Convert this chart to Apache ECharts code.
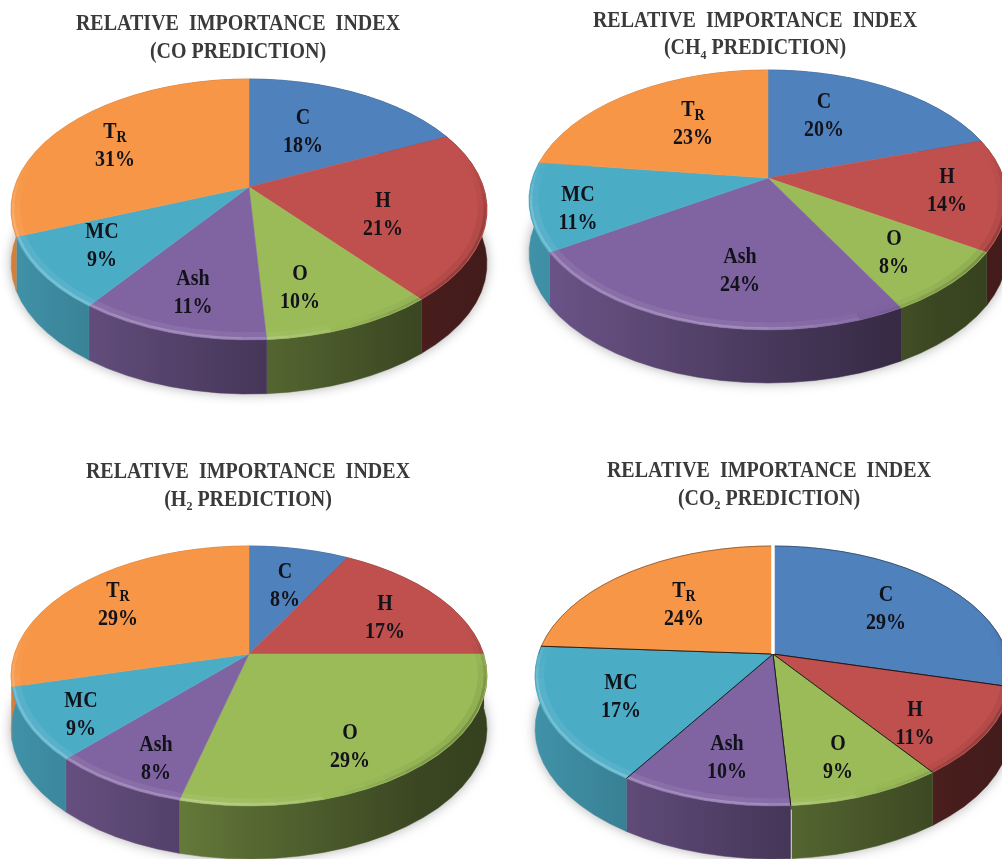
<!DOCTYPE html>
<html>
<head>
<meta charset="utf-8">
<style>
  html, body { margin: 0; padding: 0; background: #fff; }
  #chart { width: 1002px; height: 859px; }
</style>
<script src="https://cdn.jsdelivr.net/npm/echarts@6/dist/echarts.min.js"></script>
</head>
<body>
<div id="chart"></div>
<script>
// Input variables, in clockwise slice order starting at twelve o'clock.
var categories = ['C', 'H', 'O', 'Ash', 'MC', 'TR'];

// Relative importance index, percent, one list per predicted gas.
var coValues  = [18, 21, 10, 11,  9, 31];
var ch4Values = [20, 14,  8, 24, 11, 23];
var h2Values  = [ 8, 17, 29,  8,  9, 29];
var co2Values = [29, 11,  9, 10, 17, 24];

var titleLine = 'RELATIVE  IMPORTANCE  INDEX';
var coSubtitle  = ['(CO PREDICTION)'];
var ch4Subtitle = ['(CH', '4', ' PREDICTION)'];
var h2Subtitle  = ['(H', '2', ' PREDICTION)'];
var co2Subtitle = ['(CO', '2', ' PREDICTION)'];

var palette = ['#4f81bd', '#c0504d', '#9bbb59', '#8064a2', '#4bacc6', '#f79646'];

// Disc geometry of each pie and where its text sits.
// labelOffsets are measured from the hub of the pie to the middle of each two-line label.
var pies = [
  { name: 'CO',  values: coValues,  subtitle: coSubtitle,
    cx: 249, cy: 209.5, rx: 238, ry: 130.5, depth: 54, tilt: -0.172,
    titleX: 238, titleY: 38,
    labelOffsets: [[54, -55], [134, 28], [51, 101], [-56, 106], [-147, 59], [-134, -41]] },
  { name: 'CH4', values: ch4Values, subtitle: ch4Subtitle,
    cx: 768, cy: 200, rx: 239, ry: 130, depth: 53, tilt: -0.169,
    titleX: 755, titleY: 34.5,
    labelOffsets: [[56, -62], [179, 13], [126, 75], [-28, 93], [-190, 31], [-75, -54]] },
  { name: 'H2',  values: h2Values,  subtitle: h2Subtitle,
    cx: 249, cy: 676, rx: 238, ry: 130, depth: 53, tilt: -0.169,
    titleX: 248, titleY: 486,
    labelOffsets: [[36, -68], [136, -36], [101, 93], [-93, 105], [-168, 61], [-131, -49]] },
  { name: 'CO2', values: co2Values, subtitle: co2Subtitle,
    cx: 773, cy: 676, rx: 238, ry: 130, depth: 53, tilt: -0.169, outlined: true,
    titleX: 769, titleY: 485,
    labelOffsets: [[113, -45], [142, 70], [65, 104], [-46, 104], [-152, 43], [-89, -49]] }
];

var SERIF = '"Liberation Serif", "Times New Roman", serif';
var ARC_STEPS = 72;
var TEXT_STRETCH = 1.12;

function shade(hex, f) {
  var n = parseInt(hex.slice(1), 16);
  var ch = function (v) { return Math.round(v * f); };
  return 'rgb(' + ch(n >> 16 & 255) + ',' + ch(n >> 8 & 255) + ',' + ch(n & 255) + ')';
}

// Perspective view of a flat disc: the circle stays an ellipse, but the hub moves
// towards the far side, so near slices look larger than far ones.
function project(pie, angle, radius) {
  var u = radius * Math.sin(angle);
  var v = -radius * Math.cos(angle);
  var s = pie.tilt;
  var w = 1 + s * v;
  return [
    pie.cx + pie.rx * u * Math.sqrt(1 - s * s) / w,
    pie.cy + pie.ry * (v + s) / w
  ];
}

function rimPoints(pie, a0, a1, radius, dy) {
  var n = Math.max(2, Math.ceil(ARC_STEPS * (a1 - a0) / (2 * Math.PI)));
  var pts = [];
  for (var i = 0; i <= n; i++) {
    var p = project(pie, a0 + (a1 - a0) * i / n, radius);
    pts.push([p[0], p[1] + (dy || 0)]);
  }
  return pts;
}

function sliceAngles(pie, index) {
  var total = pie.values.reduce(function (a, b) { return a + b; }, 0);
  var before = pie.values.slice(0, index).reduce(function (a, b) { return a + b; }, 0);
  return [before / total * 2 * Math.PI, (before + pie.values[index]) / total * 2 * Math.PI];
}

function wallFill(pie, color) {
  var left = pie.cx - pie.rx, right = pie.cx + pie.rx;
  return {
    type: 'linear', global: true, x: left, y: 0, x2: right, y2: 0,
    colorStops: [
      { offset: 0,    color: shade(color, 0.85) },
      { offset: 0.2,  color: shade(color, 0.74) },
      { offset: 0.5,  color: shade(color, 0.56) },
      { offset: 0.85, color: shade(color, 0.38) },
      { offset: 1,    color: shade(color, 0.34) }
    ]
  };
}

// Side wall of a slice; the far part ends up hidden beneath the top faces.
function renderWall(pie, params) {
  var index = params.dataIndex;
  var a = sliceAngles(pie, index);
  var fill = wallFill(pie, palette[index]);
  var top = rimPoints(pie, a[0], a[1], 1, 0);
  var bottom = rimPoints(pie, a[0], a[1], 1, pie.depth).reverse();
  var children = [];
  if (index === 0) {
    // Soft drop shadow under the whole disc.
    children.push({
      type: 'polygon',
      shape: { points: rimPoints(pie, 0, 2 * Math.PI, 1, pie.depth - 2) },
      style: { fill: '#fff', shadowBlur: 12, shadowColor: 'rgba(0,0,0,0.32)', shadowOffsetY: 2 }
    });
  }
  children.push({
    type: 'polygon',
    shape: { points: top.concat(bottom) },
    style: { fill: fill, stroke: fill, lineWidth: 0.5 }
  });
  // Thin white seam on the near wall in the outlined pie.
  if (pie.outlined && categories[index] === 'O') {
    var seamTop = project(pie, a[1], 1);
    children.push({
      type: 'line',
      shape: { x1: seamTop[0], y1: seamTop[1] + 4, x2: seamTop[0], y2: seamTop[1] + pie.depth + 4 },
      style: { stroke: '#fff', lineWidth: 2 }
    });
  }
  return { type: 'group', children: children };
}

// How strongly the bevel shows at a rim angle: nothing on the far half, full at the front.
function bevelWeight(angle) {
  var d = Math.abs(angle - Math.PI) / Math.PI;
  var t = Math.min(1, Math.max(0, (0.6 - d) / 0.22));
  return t * t * (3 - 2 * t);
}

function bevelColor(angle, alpha) {
  var side = Math.sin(angle);
  var w = bevelWeight(angle);
  if (side < 0.3) return 'rgba(255,255,255,' + (alpha * w * Math.min(1, (0.3 - side) / 0.6 + 0.35)).toFixed(3) + ')';
  return 'rgba(0,0,0,' + (alpha * 0.9 * w * Math.min(1, (side - 0.3) / 0.5)).toFixed(3) + ')';
}

function bevelSegments(pie, a0, a1, radius, alpha, width) {
  var out = [];
  var n = Math.max(2, Math.ceil(ARC_STEPS * (a1 - a0) / (2 * Math.PI)));
  for (var i = 0; i < n; i++) {
    var p0 = a0 + (a1 - a0) * i / n;
    var p1 = a0 + (a1 - a0) * (i + 1) / n;
    var mid = (p0 + p1) / 2;
    if (bevelWeight(mid) <= 0) continue;
    var q0 = project(pie, p0, radius);
    var q1 = project(pie, p1, radius);
    out.push({
      type: 'line',
      shape: { x1: q0[0], y1: q0[1], x2: q1[0], y2: q1[1] },
      style: { stroke: bevelColor(mid, alpha), lineWidth: width }
    });
  }
  return out;
}

// Top face of a slice with the bevelled rim.
function renderTop(pie, params) {
  var index = params.dataIndex;
  var a = sliceAngles(pie, index);
  var hub = project(pie, 0, 0);
  var color = palette[index];
  var rim = rimPoints(pie, a[0], a[1], 1, 0);
  var children = [{
    type: 'polygon',
    shape: { points: [hub].concat(rim) },
    style: { fill: color, stroke: color, lineWidth: 0.5 }
  }];
  children = children.concat(
    bevelSegments(pie, a[0], a[1], 0.975, 0.07, 6),
    bevelSegments(pie, a[0], a[1], 0.992, 0.24, 2.5)
  );
  if (pie.outlined) {
    // Dark hairlines along the radial edges, fainter along the far rim.
    children.push({
      type: 'polyline',
      shape: { points: [rim[rim.length - 1], hub, rim[0]] },
      style: { fill: 'none', stroke: 'rgba(15,15,15,0.85)', lineWidth: 1 }
    });
    var farEnd = Math.min(a[1], Math.PI * 0.5), farStart = Math.max(a[0], Math.PI * 1.5);
    if (a[0] < farEnd) {
      children.push({ type: 'polyline', shape: { points: rimPoints(pie, a[0], farEnd, 1, 0) },
        style: { fill: 'none', stroke: 'rgba(30,30,30,0.5)', lineWidth: 0.7 } });
    }
    if (farStart < a[1]) {
      children.push({ type: 'polyline', shape: { points: rimPoints(pie, farStart, a[1], 1, 0) },
        style: { fill: 'none', stroke: 'rgba(30,30,30,0.5)', lineWidth: 0.7 } });
    }
  }
  return { type: 'group', children: children };
}

var labelRich = {
  main: { fontFamily: SERIF, fontWeight: 'bold', fontSize: 20, lineHeight: 24.5, fill: '#12121a' },
  sub:  { fontFamily: SERIF, fontWeight: 'bold', fontSize: 14, lineHeight: 14, verticalAlign: 'bottom', padding: [0, 0, 0, 0], fill: '#12121a' }
};

function renderLabel(pie, params, api) {
  var index = params.dataIndex;
  var hub = project(pie, 0, 0);
  var off = pie.labelOffsets[index];
  var name = categories[index];
  var head = name === 'TR' ? '{main|T}{sub|R}' : '{main|' + name + '}';
  return {
    type: 'text',
    x: hub[0] + off[0],
    y: hub[1] + off[1],
    scaleY: TEXT_STRETCH,
    style: {
      text: head + '\n{main|' + api.value(0) + '%}',
      align: 'center',
      verticalAlign: 'middle',
      rich: labelRich
    }
  };
}

function seamSeries(pie) {
  // White gap at twelve o'clock in the outlined pie.
  return {
    type: 'custom',
    coordinateSystem: 'none',
    silent: true,
    z: 3,
    data: [[0]],
    renderItem: function () {
      var hub = project(pie, 0, 0);
      var tip = project(pie, 0, 1);
      return {
        type: 'line',
        shape: { x1: hub[0], y1: hub[1], x2: tip[0], y2: tip[1] - 2 },
        style: { stroke: '#fff', lineWidth: 3.5 }
      };
    }
  };
}

var series = [];
pies.forEach(function (pie) {
  var rows = pie.values.map(function (v) { return [v]; });
  [[renderWall, 1], [renderTop, 2], [renderLabel, 4]].forEach(function (layer) {
    series.push({
      type: 'custom',
      name: pie.name,
      coordinateSystem: 'none',
      silent: true,
      z: layer[1],
      data: rows,
      renderItem: function (params, api) { return layer[0](pie, params, api); }
    });
  });
  if (pie.outlined) series.push(seamSeries(pie));
});

var titleRich = {
  t: { fontFamily: SERIF, fontWeight: 'bold', fontSize: 20, lineHeight: 24.5, fill: '#3a3a3a' },
  s: { fontFamily: SERIF, fontWeight: 'bold', fontSize: 12, lineHeight: 12, verticalAlign: 'bottom', fill: '#3a3a3a' }
};

var titleTexts = pies.map(function (pie) {
  var sub = pie.subtitle;
  var second = sub.length === 1 ? '{t|' + sub[0] + '}' : '{t|' + sub[0] + '}{s|' + sub[1] + '}{t|' + sub[2] + '}';
  return {
    type: 'text',
    x: pie.titleX,
    y: pie.titleY,
    scaleY: TEXT_STRETCH,
    silent: true,
    style: {
      text: '{t|' + titleLine + '}\n' + second,
      align: 'center',
      verticalAlign: 'middle',
      rich: titleRich
    }
  };
});

var chart = echarts.init(document.getElementById('chart'), null, { renderer: 'canvas' });
chart.setOption({
  animation: false,
  backgroundColor: '#ffffff',
  graphic: { elements: titleTexts },
  series: series
});
</script>
</body>
</html>
